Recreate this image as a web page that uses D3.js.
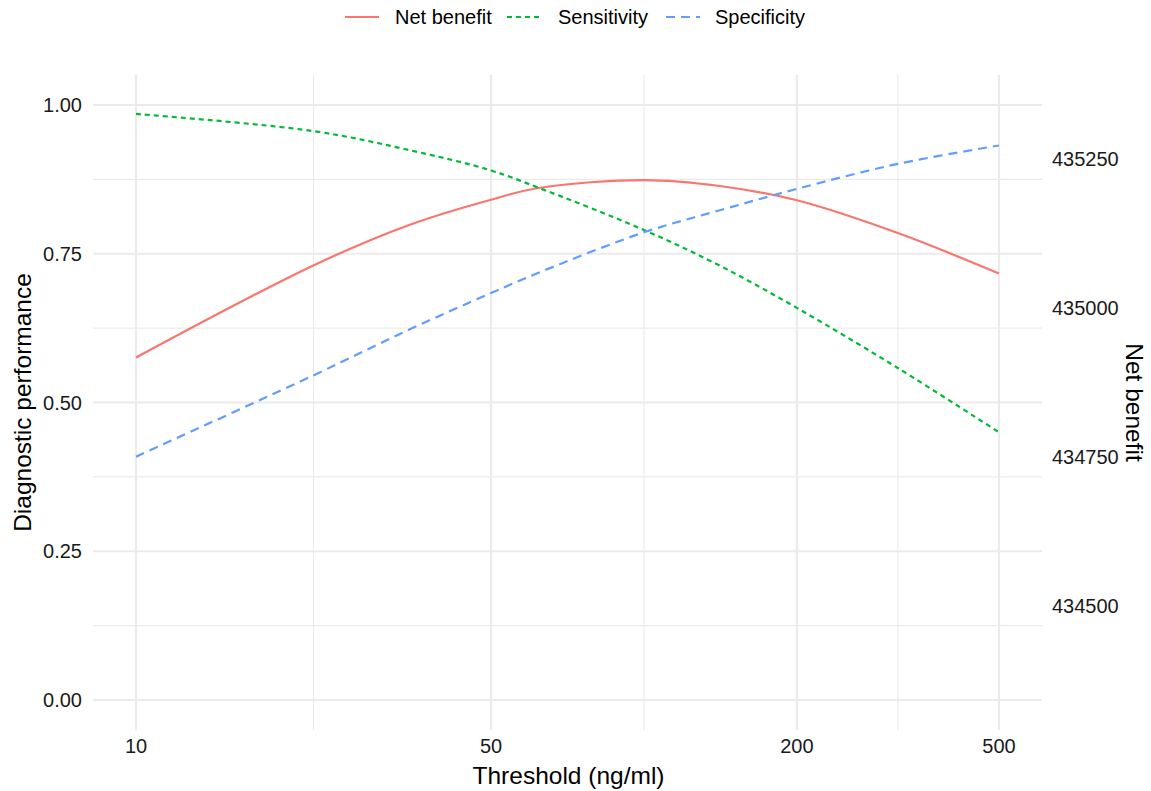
<!DOCTYPE html>
<html><head><meta charset="utf-8">
<script src="https://cdn.jsdelivr.net/npm/d3@7"></script>
<style>body{margin:0;background:#fff;font-family:"Liberation Sans",Arial,sans-serif;}</style>
</head><body>
<svg id="c" width="1151" height="791"></svg>
<script>
// ---- data ----
const thresholds  = [10, 22.4, 34.6, 50, 62.4, 100, 141, 200, 316, 500];
const netBenefit  = [434917, 435072, 435140, 435182, 435202, 435215, 435205, 435181, 435126, 435058];
const sensitivity = [0.985, 0.956, 0.924, 0.890, 0.860, 0.790, 0.730, 0.659, 0.558, 0.450];
const specificity = [0.409, 0.546, 0.623, 0.684, 0.719, 0.786, 0.823, 0.859, 0.901, 0.932];
const xTicks = [10, 50, 200, 500];
const xMinor = [22.36, 100, 316.2];
const yTicks = [0, 0.25, 0.5, 0.75, 1];
const yMinor = [0.125, 0.375, 0.625, 0.875];
const nbTicks = [434500, 434750, 435000, 435250];
const nbDomain = [434342, 435341]; // net benefit values at left-axis 0 and 1
const seriesNames = ["Net benefit", "Sensitivity", "Specificity"];
const colors = ["#F8766D", "#00BA38", "#619CFF"];
const dashes = [null, "5,4", "9,6"];

const svg = d3.select("#c");
const panel = {l: 93, r: 1042, t: 75, b: 730};
const x = d3.scaleLog().domain([10, 500]).range([136, 999]);
const y = d3.scaleLinear().domain([0, 1]).range([700, 105]);
const yR = d3.scaleLinear().domain(nbDomain).range([700, 105]);

const g = svg.append("g");
// minor grid
g.selectAll(".ymin").data(yMinor).join("line")
  .attr("x1", panel.l).attr("x2", panel.r).attr("y1", d=>y(d)).attr("y2", d=>y(d))
  .attr("stroke", "#EBEBEB").attr("stroke-width", 1.1);
g.selectAll(".xmin").data(xMinor).join("line")
  .attr("y1", panel.t).attr("y2", panel.b).attr("x1", d=>x(d)).attr("x2", d=>x(d))
  .attr("stroke", "#EBEBEB").attr("stroke-width", 1.1);
// major grid
g.selectAll(".ymaj").data(yTicks).join("line")
  .attr("x1", panel.l).attr("x2", panel.r).attr("y1", d=>y(d)).attr("y2", d=>y(d))
  .attr("stroke", "#EBEBEB").attr("stroke-width", 2.1);
g.selectAll(".xmaj").data(xTicks).join("line")
  .attr("y1", panel.t).attr("y2", panel.b).attr("x1", d=>x(d)).attr("x2", d=>x(d))
  .attr("stroke", "#EBEBEB").attr("stroke-width", 2.1);

// lines
const mk = (arr, sc) => d3.line().x((d,i)=>x(thresholds[i])).y(d=>sc(d)).curve(d3.curveCatmullRom.alpha(0.5))(arr);
const paths = [mk(netBenefit, yR), mk(sensitivity, y), mk(specificity, y)];
paths.forEach((p, i) => {
  g.append("path").attr("d", p).attr("fill", "none").attr("stroke", colors[i])
   .attr("stroke-width", 2.2).attr("stroke-dasharray", dashes[i]);
});

// axes text
const txt = (s, xx, yy, opts={}) => svg.append("text").attr("x", xx).attr("y", yy)
  .attr("font-size", opts.size||20).attr("fill", opts.fill||"#000")
  .attr("text-anchor", opts.anchor||"start").attr("dominant-baseline", "central")
  .attr("transform", opts.rot ? `rotate(${opts.rot},${xx},${yy})` : null).text(s);

yTicks.forEach(d => txt(d3.format(".2f")(d), 82, y(d), {anchor: "end", fill: "#1a1a1a"}));
nbTicks.forEach(d => txt(d, 1052, yR(d), {fill: "#1a1a1a"}));
xTicks.forEach(d => txt(d, x(d), 746, {anchor: "middle", fill: "#1a1a1a"}));
txt("Threshold (ng/ml)", (panel.l+panel.r)/2 + 1, 775, {anchor: "middle", size: 24.5});
txt("Diagnostic performance", 22, (panel.t+panel.b)/2, {anchor: "middle", size: 24.5, rot: -90});
txt("Net benefit", 1134, (panel.t+panel.b)/2, {anchor: "middle", size: 24.5, rot: 90});

// legend
const legX = [345, 507, 666];
const legT = [395, 558, 715];
seriesNames.forEach((n, i) => {
  svg.append("line").attr("x1", legX[i]).attr("x2", legX[i]+34).attr("y1", 17).attr("y2", 17)
    .attr("stroke", colors[i]).attr("stroke-width", 2.2).attr("stroke-dasharray", dashes[i]);
  txt(n, legT[i], 17, {size: 20});
});
</script>
</body></html>
